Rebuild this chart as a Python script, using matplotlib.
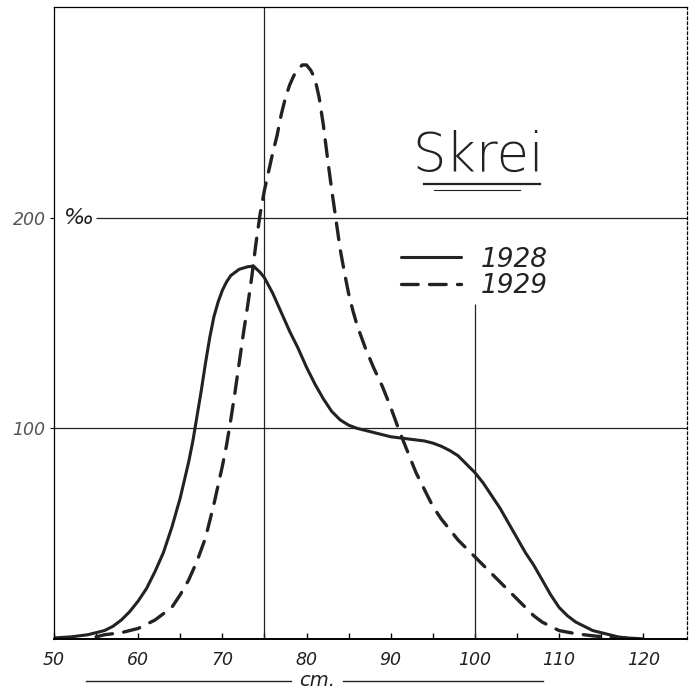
import matplotlib.pyplot as plt
import matplotlib.transforms as mtransforms

# length in cm  vs  frequency in per mille
x_1928 = [50, 52, 54, 55, 56, 57, 58, 59, 60, 61, 62, 63, 64, 65, 66, 66.5, 67, 67.5, 68,
          68.5, 69, 69.5, 70, 70.5, 71, 72, 73, 73.7, 74.5, 75, 76, 77, 78, 79, 80, 81, 82,
          83, 84, 85, 86, 87, 88, 89, 90, 91, 92, 93, 94, 95, 96, 97, 98, 99, 100, 101,
          102, 103, 104, 105, 106, 107, 108, 109, 110, 111, 112, 113, 114, 115, 116, 117,
          118, 119, 120]
y_1928 = [0.5, 1, 2, 3, 4, 6, 9, 13, 18, 24, 32, 41, 53, 67, 84, 94, 106, 118, 131,
          143, 153, 160, 165.5, 169.5, 172.5, 175.5, 176.7, 177, 174, 171.5, 164, 155, 146, 138, 129, 121, 114,
          108, 104, 101.5, 100, 99, 98, 97, 96, 95.5, 95, 94.5, 94, 93, 91.5, 89.5, 87, 83, 79, 74,
          68, 62, 55, 48, 41, 35, 28, 21, 15, 11, 8, 6, 4, 3, 2, 1,
          0.5, 0.3, 0]

x_1929 = [55, 56, 58, 60, 61, 62, 63, 64, 65, 66, 67, 68, 69, 70, 70.5, 71, 71.5, 72,
          72.5, 73, 73.5, 74, 74.5, 75, 75.5, 76, 76.5, 77, 77.5, 78, 78.5, 79, 79.5, 80,
          80.5, 81, 81.5, 82, 82.5, 83, 83.5, 84, 84.5, 85, 85.5, 86, 87, 88, 89, 90, 91,
          92, 93, 94, 95, 96, 97, 98, 99, 100, 101, 102, 103, 104, 105, 106, 107, 108,
          109, 110, 112, 114, 116, 118]
y_1929 = [1, 2, 3, 5, 7, 9, 12, 15, 21, 28, 37, 48, 64, 82, 92, 104, 117, 131,
          145, 158, 172, 188, 202, 213, 222, 231, 239, 249, 257, 263, 267.5, 270.5, 272.5, 272.5,
          270, 266, 257, 244, 228, 213, 199, 185, 174, 164, 156, 149, 138, 128.5, 120, 110, 99,
          89, 79, 71, 63, 57, 52, 47, 43, 39, 35, 31, 27, 23, 19, 15, 11, 8,
          6, 4, 2.5, 1.5, 0.8, 0.5]

xticks = [50, 60, 70, 80, 90, 100, 110, 120]
yticks = [100, 200]

ink = "#222222"

fig = plt.figure(figsize=(6.92, 6.89), dpi=100)
ax = fig.add_axes([0.078, 0.0726, 0.9148, 0.9172])

# grid / reference lines
ax.axhline(100, color=ink, lw=0.9)
ax.hlines(200, 55, 126, color=ink, lw=0.9)
ax.axvline(75, color=ink, lw=0.9)
ax.vlines(100, 0, 159, color=ink, lw=0.9)

ax.plot(x_1928, y_1928, color=ink, lw=2.2, solid_capstyle="round", label="1928")
ax.plot(x_1929, y_1929, color=ink, lw=2.4, dashes=(5, 3.4), dash_capstyle="round", label="1929")

ax.set_xlim(50, 125.2)
ax.set_ylim(0, 300)

ax.set_xticks(xticks)
ax.set_xticks(range(55, 125, 5), minor=True)
ax.set_xticklabels([str(t) for t in xticks], fontstyle="italic", fontsize=12.5, color=ink)
ax.tick_params(axis="x", which="both", direction="in", length=4, width=1, pad=9)
ax.set_yticks(yticks)
ax.set_yticklabels([str(t) for t in yticks], fontstyle="italic", fontsize=12.5, color="#555555")
ax.tick_params(axis="y", direction="out", length=3, width=0.8, pad=3)

ax.text(51.2, 200, "‰", fontsize=16, fontstyle="italic", color=ink, va="center", ha="left")

for side in ["left", "top"]:
    ax.spines[side].set_linewidth(0.9)
ax.spines["bottom"].set_linewidth(1.4)
ax.spines["right"].set_linewidth(0.9)
ax.spines["right"].set_linestyle((0, (2, 2)))

# title with double underline
ax.text(100.4, 229, "Skrei", fontsize=38, fontweight="light", color=ink, ha="center", va="center")
ax.plot([94, 107.7], [216, 216], color=ink, lw=1.6)
ax.plot([95.2, 105.4], [213, 213], color=ink, lw=0.8)

leg = ax.legend(loc="upper left", bbox_to_anchor=(89.6, 192.5), bbox_transform=ax.transData,
                frameon=False, prop={"size": 19, "style": "italic", "weight": "light"},
                handlelength=2.3, handletextpad=0.75, labelspacing=0.02, borderpad=0)
for t in leg.get_texts():
    t.set_color(ink)

# axis caption with lines either side
trans = mtransforms.blended_transform_factory(ax.transData, ax.transAxes)
ax.plot([53.8, 78.2], [-0.066, -0.066], color=ink, lw=1, transform=trans, clip_on=False)
ax.plot([84.3, 108.1], [-0.066, -0.066], color=ink, lw=1, transform=trans, clip_on=False)
ax.text(81.2, -0.065, "cm.", fontsize=14, fontstyle="italic", color=ink,
        ha="center", va="center", transform=trans)

fig.savefig("out.png", dpi=100)
